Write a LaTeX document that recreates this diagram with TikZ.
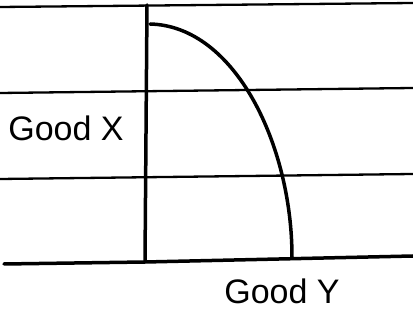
\documentclass[tikz,border=0pt]{standalone}
\usepackage{fontspec}
\setmainfont{Liberation Sans}
\tikzset{
  rule/.style={line width=2.3pt, black},
  axis/.style={line width=3.5pt, black, line cap=round},
  ppf/.style={line width=3.5pt, black, line cap=round},
  lab/.style={font=\fontsize{34}{34}\selectfont, inner sep=0pt}
}
\begin{document}
\begin{tikzpicture}[x=1pt,y=-1pt]
\useasboundingbox[fill=white] (0,0) rectangle (413,320);
% ruled paper lines
\coordinate (r1a) at (0,7); \coordinate (r1b) at (413,3);
\coordinate (r2a) at (0,93); \coordinate (r2b) at (413,88);
\coordinate (r3a) at (0,179); \coordinate (r3b) at (413,174);
\draw[rule] (r1a) -- (r1b);
\draw[rule] (r2a) -- (r2b);
\draw[rule] (r3a) -- (r3b);
% axes
\coordinate (top) at (147,5);
\coordinate (origin) at (145,262);
\coordinate (left) at (4,264);
\coordinate (right) at (413,256);
\draw[axis] (top) -- (origin);
\draw[axis] (left) -- (origin) -- (right);
% frontier curve
\coordinate (c0) at (150,24);
\coordinate (c1) at (292,257);
\draw[ppf] (c0) .. controls (235,26) and (292,145) .. (c1);
% labels
\node[lab] (gx) at (66,128) {Good X};
\node[lab] (gy) at (282,291) {Good Y};
\end{tikzpicture}
\end{document}
